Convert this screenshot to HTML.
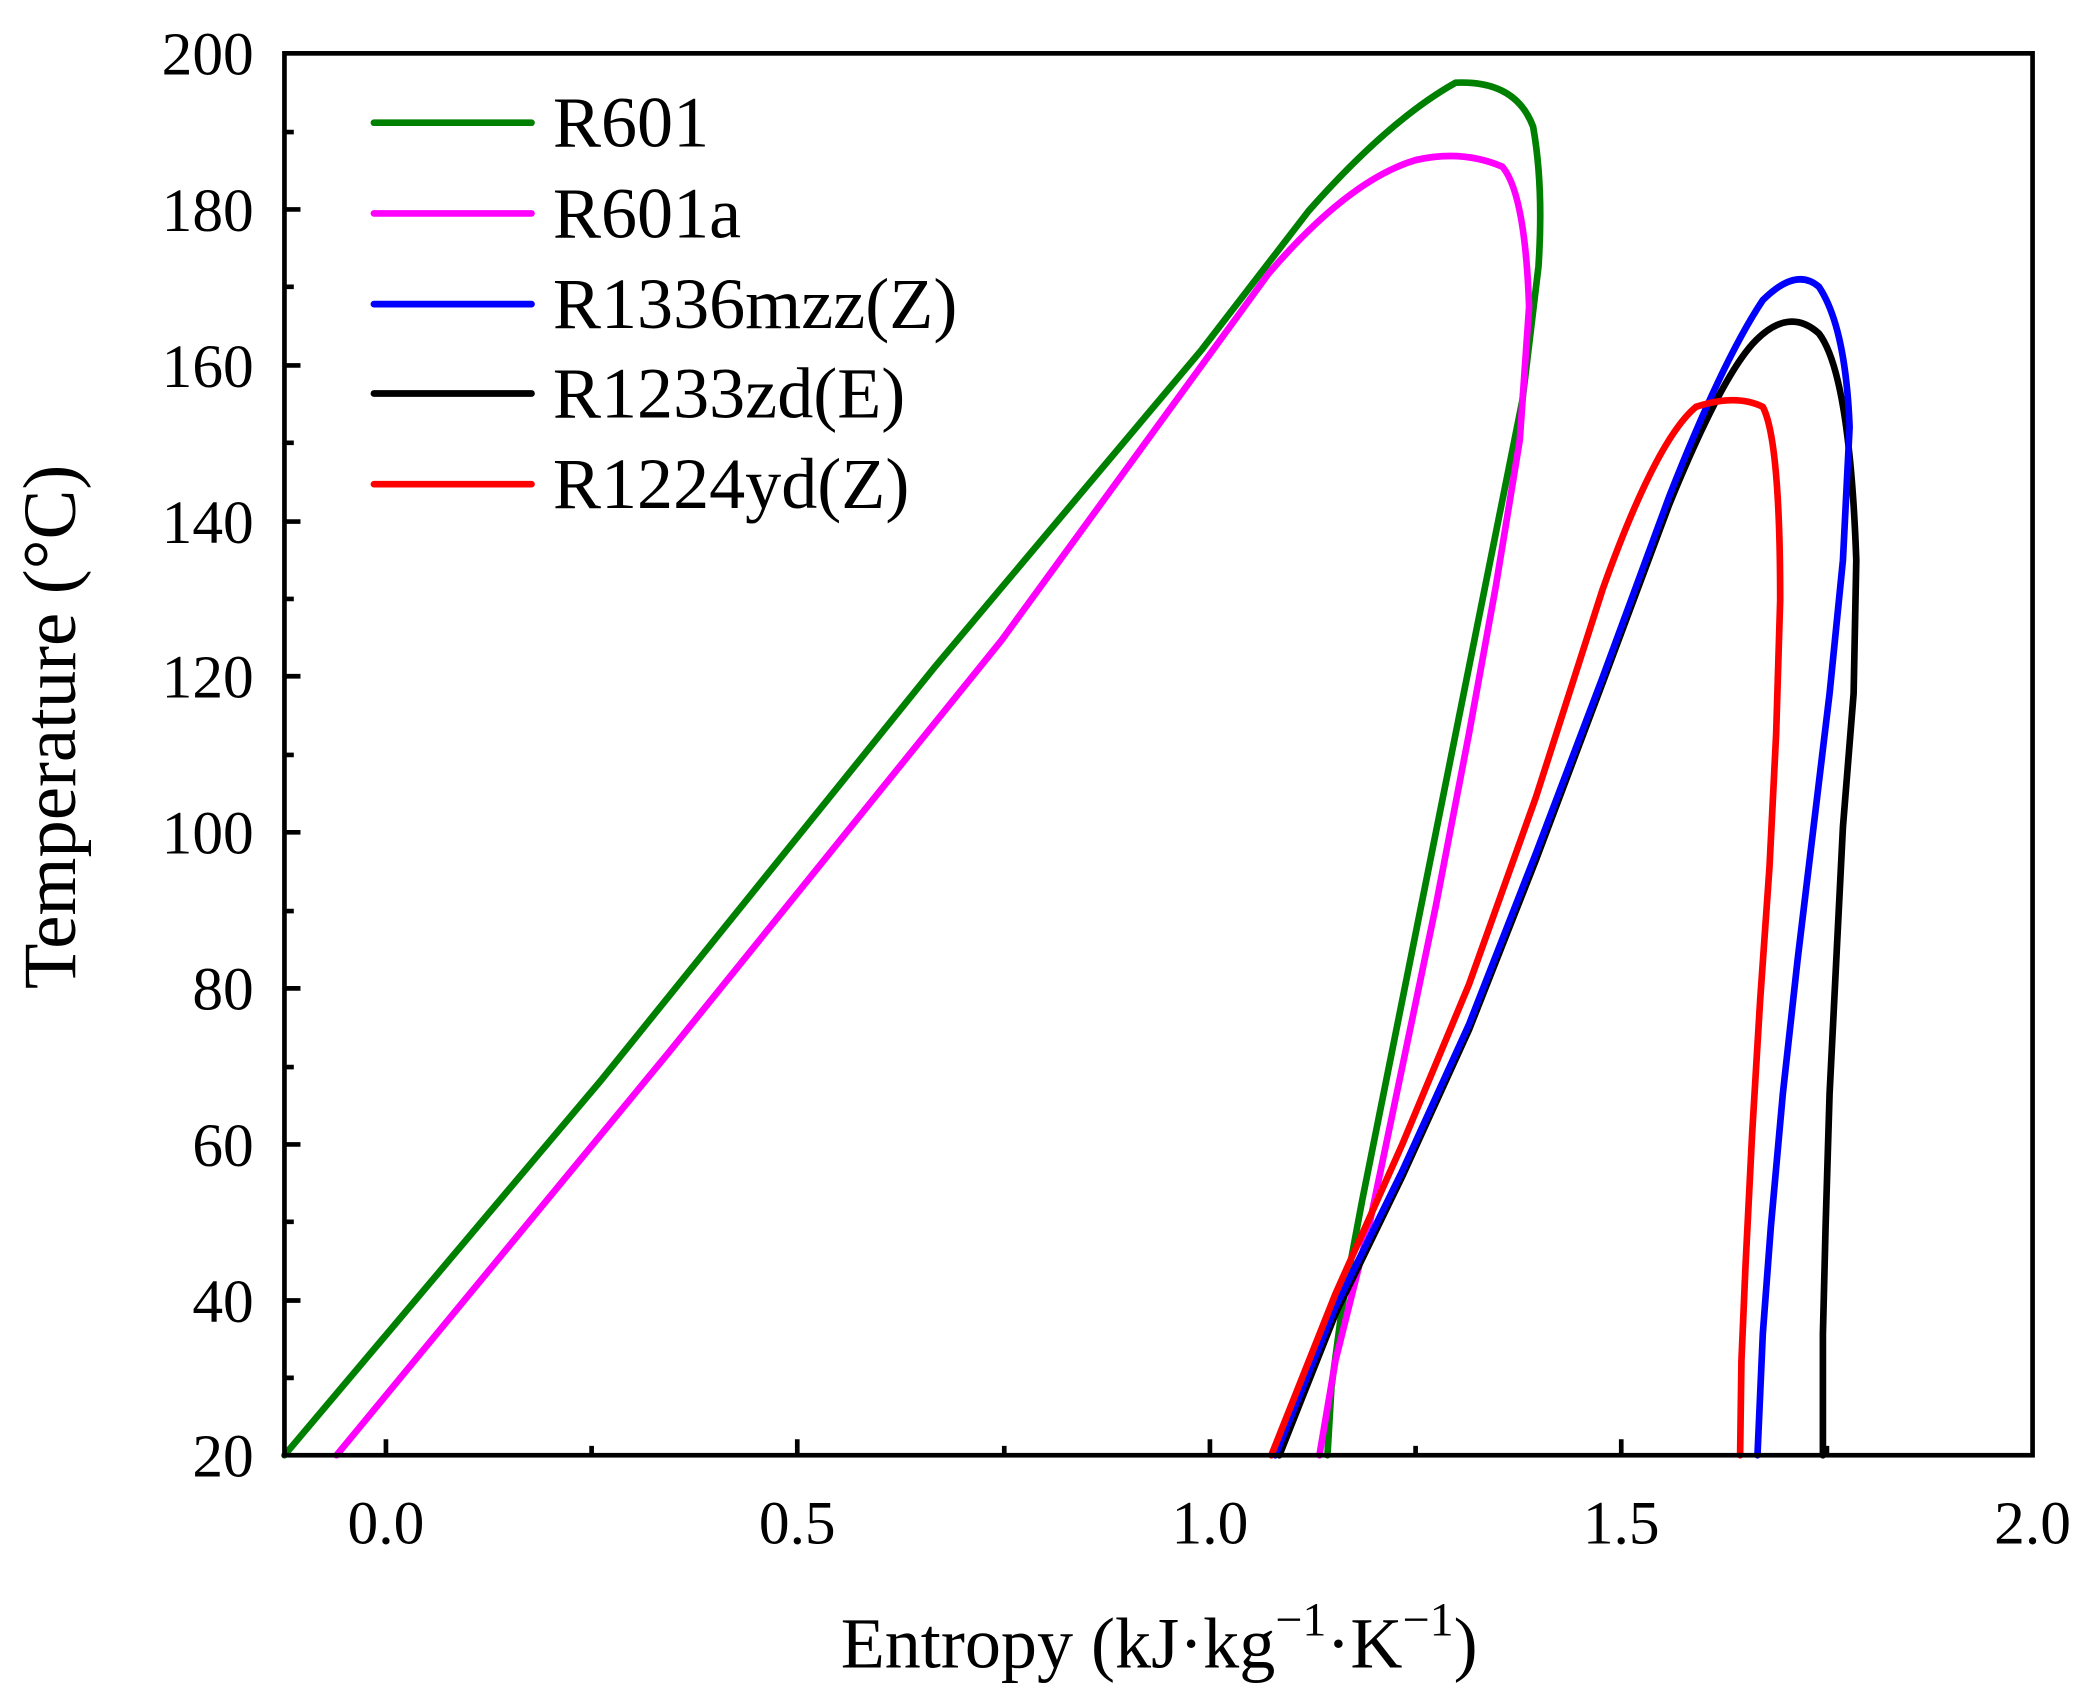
<!DOCTYPE html>
<html><head><meta charset="utf-8"><style>
html,body{margin:0;padding:0;background:#fff;}
svg{display:block;}
text{font-family:"Liberation Serif",serif;fill:#000;}
</style></head><body>
<svg width="2094" height="1702" viewBox="0 0 1568 1276" preserveAspectRatio="none" xmlns="http://www.w3.org/2000/svg">
<g fill="none" stroke-width="5" stroke-linejoin="round" stroke-linecap="round">
<path stroke="#008000" d="M213,1091 L450,810 L700,500 L900,262 L980,158 Q1040,90 1090,62 Q1135,60 1148,95 Q1156,140 1152,200 L1140,300 L1120,400 L1100,500 L1080,600 L1060,700 L1040,800 L1020,900 L1005,980 L997,1040 L994,1091"/>
<path stroke="#ff00ff" d="M252,1091 L500,790 L750,480 L950,205 Q1010,135 1060,120 Q1095,112 1125,125 Q1142,145 1145,230 L1138,330 L1120,440 L1100,550 L1075,680 L1050,800 L1025,920 L1000,1020 L988,1091"/>
<path stroke="#000000" d="M958,1091 L1000,985 L1050,882 L1100,772 L1150,645 L1200,512 L1250,378 Q1290,280 1315,255 Q1340,230 1362,250 Q1385,280 1390,420 L1388,520 L1380,620 L1375,720 L1370,820 L1367,920 L1365,1000 L1365,1091"/>
<path stroke="#0000ff" d="M955,1091 L1000,980 L1050,878 L1100,768 L1150,640 L1200,508 L1250,372 Q1290,270 1320,225 Q1345,200 1362,215 Q1382,245 1385,320 L1380,420 L1370,520 L1358,620 L1346,720 L1335,820 L1326,920 L1320,1000 L1316,1091"/>
<path stroke="#ff0000" d="M952,1091 L1000,970 L1050,858 L1100,738 L1150,598 L1200,442 Q1240,330 1270,305 Q1300,295 1320,305 Q1333,330 1333,450 L1330,550 L1325,650 L1318,750 L1312,850 L1307,950 L1304,1020 L1303,1091"/>
</g>
<rect x="213" y="40" width="1309" height="1051" fill="none" stroke="#000" stroke-width="3.5"/>
<g stroke="#000" stroke-width="3.5">
<path d="M289,1091v-12M597,1091v-12M906,1091v-12M1214,1091v-12M443,1091v-7M752,1091v-7M1060,1091v-7M1368,1091v-7"/>
<path d="M213,157h12M213,274h12M213,391h12M213,507h12M213,624h12M213,741h12M213,858h12M213,975h12M213,99h7M213,215h7M213,332h7M213,449h7M213,566h7M213,683h7M213,800h7M213,916h7M213,1033h7"/>
</g>
<g font-size="46" text-anchor="end">
<text x="190" y="56">200</text><text x="190" y="173">180</text><text x="190" y="290">160</text><text x="190" y="407">140</text><text x="190" y="523">120</text><text x="190" y="640">100</text><text x="190" y="757">80</text><text x="190" y="874">60</text><text x="190" y="991">40</text><text x="190" y="1107">20</text>
</g>
<g font-size="46" text-anchor="middle">
<text x="289" y="1157">0.0</text><text x="597" y="1157">0.5</text><text x="906" y="1157">1.0</text><text x="1214" y="1157">1.5</text><text x="1522" y="1157">2.0</text>
</g>
<text x="868" y="1250" font-size="54" text-anchor="middle">Entropy (kJ·kg<tspan dy="-24" font-size="36">−1</tspan><tspan dy="24">·K</tspan><tspan dy="-24" font-size="36">−1</tspan><tspan dy="24">)</tspan></text>
<text transform="translate(56,545) rotate(-90)" font-size="56" text-anchor="middle">Temperature (°C)</text>
<g stroke-width="5" stroke-linecap="round">
<line x1="280" y1="92" x2="398" y2="92" stroke="#008000"/>
<line x1="280" y1="160" x2="398" y2="160" stroke="#ff00ff"/>
<line x1="280" y1="228" x2="398" y2="228" stroke="#0000ff"/>
<line x1="280" y1="295" x2="398" y2="295" stroke="#000"/>
<line x1="280" y1="363" x2="398" y2="363" stroke="#ff0000"/>
</g>
<g font-size="54">
<text x="414" y="110">R601</text><text x="414" y="178">R601a</text><text x="414" y="246">R1336mzz(Z)</text><text x="414" y="313">R1233zd(E)</text><text x="414" y="381">R1224yd(Z)</text>
</g>
</svg>
</body></html>
